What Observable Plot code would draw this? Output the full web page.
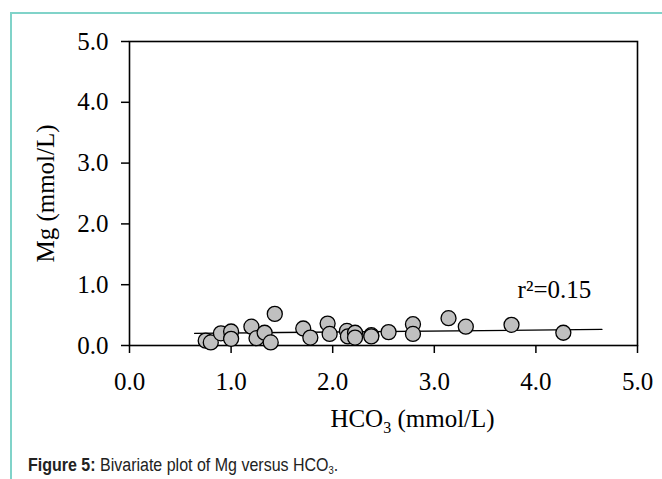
<!DOCTYPE html>
<html><head><meta charset="utf-8">
<script src="https://cdn.jsdelivr.net/npm/d3@7"></script>
<script src="https://cdn.jsdelivr.net/npm/@observablehq/plot@0.6"></script>
<style>
html,body{margin:0;padding:0;background:#fff;}
#wrap{position:relative;width:662px;height:479px;overflow:hidden;}
#border{position:absolute;left:10px;top:12px;right:-10px;bottom:-10px;border-top:2px solid #80d3c9;border-left:2px solid #80d3c9;}
#chart{position:absolute;left:0;top:0;}
#caption{position:absolute;left:28px;top:458px;font-family:"Liberation Sans",Arial,sans-serif;font-size:16px;line-height:16px;color:#222;white-space:nowrap;transform:scaleY(1.18);transform-origin:0 13.5px;}
#caption .sub{font-size:9.5px;vertical-align:-3px;}
</style></head>
<body><div id="wrap"><div id="border"></div><div id="chart"></div><div id="caption"><b>Figure 5:</b> Bivariate plot of Mg versus HCO<span class="sub">3</span>.</div></div>
<script>
// Data
const hco3 = [0.75, 0.80, 0.90, 1.00, 1.00, 1.20, 1.25, 1.33, 1.39, 1.43, 1.71, 1.78, 1.95, 1.97, 2.14, 2.15, 2.22, 2.22, 2.38, 2.38, 2.55, 2.79, 2.79, 3.14, 3.31, 3.76, 4.27];
const mg   = [0.08, 0.05, 0.20, 0.23, 0.11, 0.31, 0.12, 0.21, 0.05, 0.52, 0.28, 0.13, 0.36, 0.19, 0.24, 0.15, 0.21, 0.13, 0.17, 0.15, 0.22, 0.35, 0.19, 0.45, 0.31, 0.34, 0.21];
const fitX = [0.64, 4.65];
const fitY = [0.20, 0.265];
const xTicks = [0, 1, 2, 3, 4, 5];
const yTicks = [0, 1, 2, 3, 4, 5];
const r2Label = "r²=0.15";
const r2X = [3.82];
const r2Y = [0.78];
const xLabel = "HCO3 (mmol/L)";
const yLabel = "Mg (mmol/L)";

const points = hco3.map((x, i) => ({x, y: mg[i]}));
const fit = fitX.map((x, i) => ({x, y: fitY[i]}));
const r2 = r2X.map((x, i) => ({x, y: r2Y[i], t: r2Label}));
const fmt = d => d.toFixed(1);
const serif = '"Liberation Serif","Times New Roman",serif';
const fs = 25;

const plot = Plot.plot({
  width: 662, height: 440,
  marginLeft: 129, marginRight: 25, marginTop: 41, marginBottom: 95,
  style: {fontFamily: serif, fontSize: fs + "px", color: "#000", background: "transparent", overflow: "visible"},
  x: {domain: [0, 5]},
  y: {domain: [0, 5]},
  marks: [
    Plot.axisX({ticks: xTicks, tickFormat: fmt, tickSize: 8, tickPadding: 19, fontSize: fs, fontFamily: serif, label: null, strokeWidth: 1.5}),
    Plot.axisY({ticks: yTicks, tickFormat: fmt, tickSize: 8, tickPadding: 13, fontSize: fs, fontFamily: serif, label: null, strokeWidth: 1.5}),
    Plot.frame({stroke: "#000", strokeWidth: 1.6}),
    Plot.line(fit, {x: "x", y: "y", stroke: "#000", strokeWidth: 1.3}),
    Plot.dot(points, {x: "x", y: "y", r: 7.5, fill: "#c0c0c0", stroke: "#000", strokeWidth: 1.3}),
    Plot.text(r2, {x: "x", y: "y", text: "t", textAnchor: "start", lineAnchor: "bottom", fontSize: fs, fontFamily: serif, fill: "#000"}),
    Plot.text([xLabel], {text: d => d, frameAnchor: "bottom", textAnchor: "middle", dx: 29, dy: 81, lineAnchor: "bottom", fontSize: fs, fontFamily: serif, fill: "#000"}),
    Plot.text([yLabel], {text: d => d, frameAnchor: "left", textAnchor: "middle", dx: -76, rotate: -90, lineAnchor: "bottom", fontSize: fs, fontFamily: serif, fill: "#000"})
  ]
});

// Subscript for HCO3 label
d3.select(plot).selectAll("text").filter(function() { return this.textContent === xLabel; }).each(function() {
  const t = d3.select(this);
  t.text(null);
  t.append("tspan").text("HCO");
  t.append("tspan").attr("dy", "6px").attr("font-size", "16px").text("3");
  t.append("tspan").attr("dy", "-6px").text(" (mmol/L)");
});

document.getElementById("chart").appendChild(plot);
</script>
</body></html>
